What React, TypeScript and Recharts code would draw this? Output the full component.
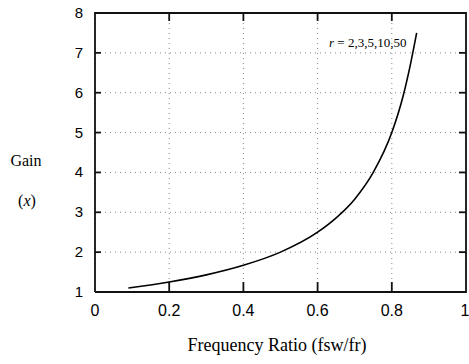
import { LineChart, Line, XAxis, YAxis, CartesianGrid } from "recharts";

// ─── Curve readings (gain vs frequency ratio) ─────────────────────────────────
const ratio = [0.09, 0.2, 0.3, 0.4, 0.5, 0.6, 0.65, 0.7, 0.75, 0.8, 0.83, 0.85, 0.867];
const gain = [1.1, 1.25, 1.43, 1.67, 2.0, 2.5, 2.86, 3.33, 4.0, 5.0, 5.9, 6.7, 7.5];
const xTicks = [0, 0.2, 0.4, 0.6, 0.8, 1];
const xTickLabels = ["0", "0.2", "0.4", "0.6", "0.8", "1"];
const yTicks = [1, 2, 3, 4, 5, 6, 7, 8];

const data = ratio.map((r, i) => ({ r, g: gain[i] }));

const sans = "'Liberation Sans', Arial, sans-serif";
const serif = "'Liberation Serif', 'Times New Roman', serif";

// inner tick mark lengths, in axis units
const markBottom = 0.25;
const markTop = 0.2;
const markLeft = 0.016;
const markRight = 0.019;

const xMin = xTicks[0];
const xMax = xTicks[xTicks.length - 1];
const yMin = yTicks[0];
const yMax = yTicks[yTicks.length - 1];
const innerX = xTicks.slice(1, -1);
const innerY = yTicks.slice(1, -1);

// frame + tick marks as small polylines in data space
const frame = [
  { r: xMin, g: yMin },
  { r: xMax, g: yMin },
  { r: xMax, g: yMax },
  { r: xMin, g: yMax },
  { r: xMin, g: yMin },
];
const marks = [
  ...innerX.map((v) => [{ r: v, g: yMin }, { r: v, g: yMin + markBottom }]),
  ...innerX.map((v) => [{ r: v, g: yMax }, { r: v, g: yMax - markTop }]),
  ...innerY.map((v) => [{ r: xMin, g: v }, { r: xMin + markLeft, g: v }]),
  ...innerY.map((v) => [{ r: xMax, g: v }, { r: xMax - markRight, g: v }]),
];

function BottomTick(props: any) {
  const { x, y, payload } = props;
  const i = xTicks.indexOf(payload.value);
  return (
    <text x={x} y={y + 24} textAnchor="middle" fontFamily={sans} fontSize={16} fill="#000">
      {xTickLabels[i]}
    </text>
  );
}

function LeftTick(props: any) {
  const { x, y, payload } = props;
  return (
    <text x={x - 12} y={y + 5} textAnchor="end" fontFamily={sans} fontSize={15} fill="#000">
      {payload.value}
    </text>
  );
}

export default function App() {
  return (
    <div style={{ position: "absolute", left: 0, top: 0 }}>
      <LineChart width={469} height={364} data={data} margin={{ top: 13, right: 3, bottom: 0, left: 0 }}>
        <CartesianGrid stroke="#888" strokeDasharray="1 4" />
        <XAxis
          dataKey="r"
          type="number"
          domain={[xMin, xMax]}
          ticks={xTicks}
          height={72}
          tickSize={0}
          tickMargin={0}
          tickLine={false}
          axisLine={false}
          tick={<BottomTick />}
        />
        <YAxis
          type="number"
          domain={[yMin, yMax]}
          ticks={yTicks}
          width={95}
          tickSize={0}
          tickMargin={0}
          tickLine={false}
          axisLine={false}
          tick={<LeftTick />}
        />
        <Line
          data={frame}
          dataKey="g"
          type="linear"
          stroke="#111"
          strokeWidth={1.8}
          dot={false}
          isAnimationActive={false}
        />
        {marks.map((m, i) => (
          <Line
            key={i}
            data={m}
            dataKey="g"
            type="linear"
            stroke="#111"
            strokeWidth={1.8}
            dot={false}
            isAnimationActive={false}
          />
        ))}
        <Line
          dataKey="g"
          type="monotone"
          stroke="#000"
          strokeWidth={1.6}
          dot={false}
          isAnimationActive={false}
        />
        <text x={329} y={47} fontFamily={serif} fontSize={13} fill="#000">
          <tspan fontStyle="italic">r</tspan> = 2,3,5,10,50
        </text>
        <text x={26} y={166} textAnchor="middle" fontFamily={serif} fontSize={16} fill="#000">
          Gain
        </text>
        <text x={27} y={206} textAnchor="middle" fontFamily={serif} fontSize={16} fill="#000">
          (<tspan fontStyle="italic">x</tspan>)
        </text>
        <text x={277} y={351} textAnchor="middle" fontFamily={serif} fontSize={18} fill="#000">
          Frequency Ratio (fsw/fr)
        </text>
      </LineChart>
    </div>
  );
}
